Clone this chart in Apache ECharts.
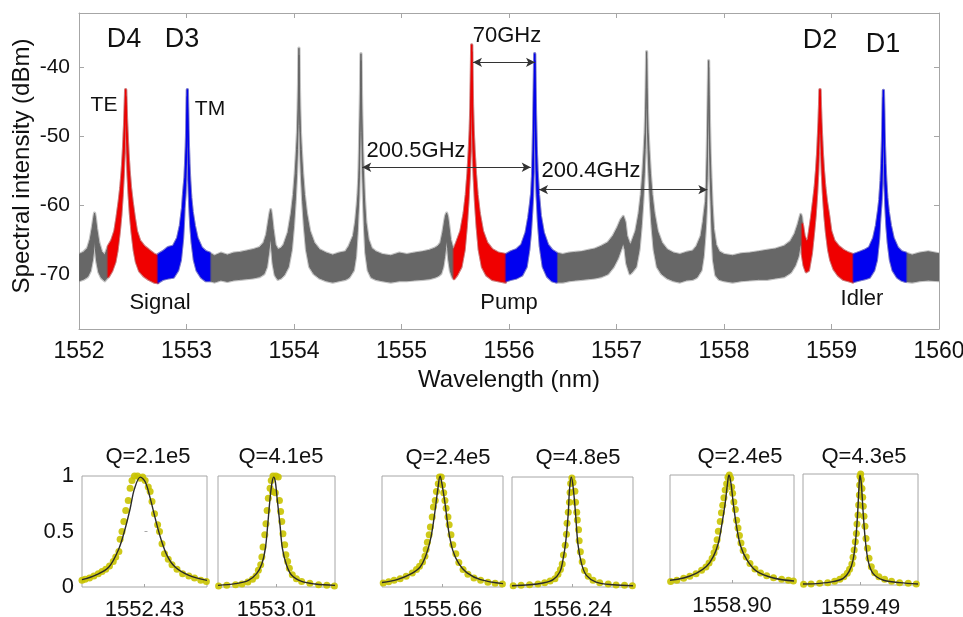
<!DOCTYPE html>
<html>
<head>
<meta charset="utf-8">
<script src="https://cdn.jsdelivr.net/npm/echarts@6/dist/echarts.min.js"></script>
<style>html,body{margin:0;padding:0;background:#fff}#c{width:963px;height:617px}</style>
</head>
<body>
<div id="c"></div>
<script>
// ---------- DATA ----------
// Spectrum envelope: [wavelength nm, upper dBm, lower dBm]
const spectrumEnvelope = [
[1552.000,-67.2,-71.0],[1552.040,-66.9,-70.8],[1552.080,-66.3,-70.4],[1552.105,-65.0,-69.6],
[1552.125,-63.2,-68.0],[1552.138,-61.8,-66.3],[1552.145,-61.2,-65.0],[1552.152,-61.8,-66.3],
[1552.165,-63.5,-68.2],[1552.185,-65.5,-69.8],[1552.210,-66.8,-70.6],[1552.240,-67.3,-71.0],
[1552.273,-66.0,-70.4],[1552.304,-65.2,-69.6],[1552.334,-63.8,-68.3],[1552.354,-61.8,-66.6],
[1552.374,-59.5,-64.0],[1552.389,-57.5,-61.5],[1552.402,-55.0,-58.5],[1552.412,-52.5,-55.5],
[1552.418,-50.5,-53.0],[1552.425,-48.0,-50.0],[1552.430,-45.5,-47.0],[1552.434,-43.3,-44.3],
[1552.438,-45.5,-47.0],[1552.443,-48.0,-50.0],[1552.450,-50.5,-53.0],[1552.456,-52.5,-55.5],
[1552.466,-55.0,-58.5],[1552.479,-57.5,-61.5],[1552.494,-59.5,-64.0],[1552.514,-61.8,-66.6],
[1552.534,-63.8,-68.3],[1552.564,-65.2,-69.6],[1552.604,-66.0,-70.3],[1552.650,-66.6,-70.8],
[1552.700,-67.2,-71.2],[1552.733,-67.4,-71.3],[1552.738,-67.2,-71.2],[1552.780,-66.8,-70.8],
[1552.830,-66.2,-70.6],[1552.878,-66.0,-70.5],[1552.918,-64.8,-69.5],[1552.943,-63.0,-68.0],
[1552.963,-60.5,-65.0],[1552.972,-58.5,-62.5],[1552.977,-57.6,-60.5],[1552.986,-56.0,-58.5],
[1552.993,-53.5,-56.0],[1552.998,-51.5,-53.5],[1553.002,-49.0,-50.5],[1553.005,-46.0,-47.5],
[1553.008,-43.3,-44.3],[1553.011,-46.0,-47.5],[1553.014,-49.0,-51.0],[1553.018,-51.5,-54.0],
[1553.023,-54.0,-57.0],[1553.030,-56.5,-60.0],[1553.040,-59.0,-63.0],[1553.053,-61.0,-65.5],
[1553.073,-63.0,-68.0],[1553.098,-64.8,-69.5],[1553.138,-66.2,-70.5],[1553.180,-66.8,-71.0],
[1553.215,-67.0,-71.0],[1553.260,-67.4,-71.2],[1553.320,-67.0,-70.9],[1553.380,-67.3,-71.1],
[1553.440,-67.0,-70.9],[1553.500,-66.9,-70.8],[1553.560,-66.7,-70.7],[1553.620,-66.5,-70.6],
[1553.680,-66.2,-70.4],[1553.720,-65.5,-70.0],[1553.745,-64.3,-69.0],[1553.763,-62.5,-67.0],
[1553.775,-61.3,-65.5],[1553.783,-60.7,-64.8],[1553.791,-61.5,-66.0],[1553.805,-63.5,-68.5],
[1553.825,-65.8,-70.2],[1553.850,-66.5,-70.8],[1553.880,-66.3,-70.6],[1553.906,-65.8,-70.2],
[1553.946,-64.0,-69.0],[1553.976,-61.2,-66.5],[1553.996,-58.5,-63.0],[1554.011,-55.5,-59.5],
[1554.024,-52.0,-55.5],[1554.032,-49.5,-52.0],[1554.038,-46.0,-48.5],[1554.042,-42.5,-44.5],
[1554.044,-40.0,-41.5],[1554.046,-37.3,-38.3],[1554.048,-40.0,-41.5],[1554.050,-42.5,-44.5],
[1554.054,-46.0,-48.5],[1554.060,-49.5,-52.0],[1554.068,-52.0,-55.5],[1554.081,-55.5,-59.5],
[1554.096,-58.5,-63.0],[1554.116,-61.2,-66.5],[1554.146,-63.8,-69.0],[1554.186,-65.5,-70.0],
[1554.236,-66.5,-70.6],[1554.300,-67.0,-71.0],[1554.360,-67.3,-71.2],[1554.420,-67.0,-71.0],
[1554.480,-66.8,-70.8],[1554.513,-66.0,-70.5],[1554.553,-64.5,-69.5],[1554.573,-62.5,-67.5],
[1554.588,-60.0,-64.0],[1554.595,-58.5,-61.5],[1554.603,-56.0,-59.0],[1554.609,-52.0,-55.0],
[1554.615,-47.0,-49.5],[1554.619,-43.0,-45.0],[1554.621,-40.5,-42.0],[1554.623,-38.1,-39.1],
[1554.625,-40.5,-42.0],[1554.627,-43.0,-45.0],[1554.631,-47.0,-49.5],[1554.637,-51.5,-54.5],
[1554.645,-55.0,-58.5],[1554.655,-59.0,-63.0],[1554.668,-62.5,-67.0],[1554.690,-65.0,-69.5],
[1554.720,-66.3,-70.5],[1554.760,-66.8,-70.8],[1554.820,-67.2,-71.0],[1554.900,-67.4,-71.2],
[1554.980,-67.0,-71.0],[1555.050,-67.2,-71.0],[1555.120,-67.0,-70.9],[1555.200,-66.8,-70.8],
[1555.260,-66.6,-70.7],[1555.310,-66.3,-70.5],[1555.340,-66.0,-70.3],[1555.365,-65.5,-70.0],
[1555.385,-64.0,-69.0],[1555.400,-62.5,-67.5],[1555.410,-61.6,-66.2],[1555.420,-61.2,-65.0],
[1555.430,-61.8,-66.3],[1555.440,-63.0,-68.0],[1555.455,-65.0,-69.6],[1555.475,-66.2,-70.5],
[1555.489,-66.5,-70.7],[1555.513,-65.5,-70.2],[1555.553,-63.8,-69.0],[1555.583,-61.2,-66.5],
[1555.603,-58.5,-63.0],[1555.618,-55.5,-59.5],[1555.631,-52.0,-55.5],[1555.639,-49.2,-51.8],
[1555.645,-45.8,-48.2],[1555.649,-42.0,-44.0],[1555.651,-39.5,-41.0],[1555.653,-36.8,-37.8],
[1555.655,-39.5,-41.0],[1555.657,-42.0,-44.0],[1555.661,-45.8,-48.2],[1555.667,-49.2,-51.8],
[1555.675,-52.0,-55.5],[1555.688,-55.5,-59.5],[1555.703,-58.5,-63.0],[1555.723,-61.2,-66.5],
[1555.753,-63.8,-69.0],[1555.793,-65.5,-70.2],[1555.843,-66.5,-70.8],[1555.900,-67.0,-71.0],
[1555.968,-67.2,-71.2],[1555.975,-67.2,-71.0],[1556.020,-66.8,-70.8],[1556.070,-66.5,-70.6],
[1556.119,-65.8,-70.2],[1556.159,-64.0,-69.0],[1556.184,-61.8,-66.5],[1556.199,-60.0,-64.0],
[1556.211,-58.3,-61.0],[1556.219,-55.8,-58.8],[1556.225,-52.0,-55.0],[1556.231,-47.0,-49.5],
[1556.235,-43.0,-45.0],[1556.237,-40.5,-42.0],[1556.239,-38.1,-39.1],[1556.241,-40.5,-42.0],
[1556.243,-43.0,-45.0],[1556.247,-47.0,-49.5],[1556.253,-51.5,-54.5],[1556.261,-55.0,-58.5],
[1556.274,-58.5,-62.5],[1556.291,-61.5,-66.0],[1556.319,-64.0,-69.0],[1556.359,-65.8,-70.4],
[1556.400,-66.6,-71.0],[1556.440,-67.0,-71.2],[1556.500,-67.2,-71.2],[1556.560,-67.0,-71.0],
[1556.620,-66.9,-70.9],[1556.680,-66.8,-70.8],[1556.740,-66.6,-70.7],[1556.800,-66.4,-70.6],
[1556.860,-66.0,-70.4],[1556.920,-65.5,-70.0],[1556.970,-64.5,-69.0],[1557.010,-63.3,-67.8],
[1557.040,-62.2,-66.5],[1557.063,-61.7,-65.5],[1557.080,-62.5,-66.5],[1557.095,-64.5,-68.5],
[1557.125,-65.8,-70.0],[1557.140,-65.5,-69.8],[1557.180,-63.8,-69.0],[1557.210,-61.2,-66.5],
[1557.230,-58.5,-63.0],[1557.245,-55.5,-59.5],[1557.258,-52.0,-55.5],[1557.266,-49.5,-52.0],
[1557.272,-46.2,-48.7],[1557.276,-43.0,-45.0],[1557.278,-40.5,-42.0],[1557.280,-37.8,-38.8],
[1557.282,-40.5,-42.0],[1557.284,-43.0,-45.0],[1557.288,-46.2,-48.7],[1557.294,-49.5,-52.0],
[1557.302,-52.0,-55.5],[1557.315,-55.5,-59.5],[1557.330,-58.5,-63.0],[1557.350,-61.2,-66.5],
[1557.380,-63.8,-69.0],[1557.420,-65.5,-70.0],[1557.470,-66.5,-70.6],[1557.530,-67.0,-71.0],
[1557.590,-67.2,-71.2],[1557.650,-66.9,-70.9],[1557.710,-66.7,-70.8],[1557.747,-66.0,-70.5],
[1557.787,-64.5,-69.5],[1557.807,-62.5,-67.5],[1557.822,-60.5,-64.5],[1557.830,-59.5,-62.5],
[1557.837,-57.0,-60.0],[1557.843,-53.0,-56.0],[1557.849,-48.0,-50.5],[1557.853,-44.0,-46.0],
[1557.855,-41.5,-43.0],[1557.857,-39.1,-40.1],[1557.859,-41.5,-43.0],[1557.861,-44.0,-46.0],
[1557.865,-48.0,-50.5],[1557.871,-52.5,-55.5],[1557.879,-56.0,-59.5],[1557.889,-60.0,-64.0],
[1557.902,-63.5,-68.0],[1557.924,-65.8,-70.2],[1557.954,-66.8,-70.8],[1558.000,-67.2,-71.0],
[1558.080,-67.4,-71.2],[1558.160,-67.1,-71.0],[1558.240,-67.0,-70.9],[1558.320,-66.8,-70.8],
[1558.400,-66.6,-70.8],[1558.480,-66.4,-70.6],[1558.560,-66.0,-70.4],[1558.620,-65.3,-69.8],
[1558.660,-64.2,-68.8],[1558.690,-62.8,-67.5],[1558.705,-61.9,-66.2],[1558.714,-61.4,-65.5],
[1558.722,-61.8,-66.0],[1558.729,-62.8,-67.2],[1558.745,-64.5,-68.8],[1558.765,-65.3,-69.7],
[1558.785,-65.0,-69.5],[1558.813,-62.0,-67.0],[1558.833,-59.5,-64.0],[1558.848,-57.5,-61.5],
[1558.861,-55.0,-58.5],[1558.871,-52.5,-55.5],[1558.877,-50.5,-53.0],[1558.884,-48.0,-50.0],
[1558.889,-45.5,-47.0],[1558.893,-43.3,-44.3],[1558.897,-45.5,-47.0],[1558.902,-48.0,-50.0],
[1558.909,-50.5,-53.0],[1558.915,-52.5,-55.5],[1558.925,-55.0,-58.5],[1558.938,-57.5,-61.5],
[1558.953,-59.5,-64.0],[1558.973,-61.5,-66.5],[1558.993,-63.8,-68.0],[1559.023,-65.2,-69.3],
[1559.063,-66.0,-70.2],[1559.110,-66.6,-70.8],[1559.160,-67.0,-71.0],[1559.198,-67.2,-71.2],
[1559.208,-67.2,-71.1],[1559.260,-66.9,-70.9],[1559.310,-66.6,-70.7],[1559.353,-66.2,-70.5],
[1559.393,-64.8,-69.5],[1559.418,-63.0,-68.0],[1559.438,-60.8,-65.0],[1559.449,-59.3,-62.0],
[1559.461,-56.5,-59.5],[1559.468,-54.0,-57.0],[1559.473,-51.5,-54.0],[1559.477,-49.0,-51.0],
[1559.480,-46.0,-47.5],[1559.483,-43.4,-44.4],[1559.486,-46.0,-47.5],[1559.489,-49.0,-51.0],
[1559.493,-51.5,-54.0],[1559.498,-54.0,-57.0],[1559.505,-56.5,-60.0],[1559.515,-59.0,-63.0],
[1559.528,-61.0,-65.5],[1559.548,-63.0,-68.0],[1559.573,-64.8,-69.5],[1559.613,-66.2,-70.5],
[1559.650,-66.8,-70.9],[1559.690,-67.0,-71.1],[1559.750,-67.3,-71.2],[1559.820,-67.0,-71.0],
[1559.900,-66.8,-70.9],[1560.000,-67.1,-71.0]
];
// Coloured parts of the trace (grey = whole trace underneath)
const segStart = [1552.000, 1552.273, 1552.738, 1555.489, 1555.975, 1558.729, 1559.208];
const segEnd   = [1560.000, 1552.733, 1553.215, 1555.968, 1556.440, 1559.198, 1559.690];
const segKind  = ['other', 'TE', 'TM', 'TE', 'TM', 'TE', 'TM'];

// Spacing arrows: [from nm, to nm, level dBm]
const arrowFrom  = [1555.665, 1554.635, 1556.279];
const arrowTo    = [1556.242, 1556.202, 1557.845];
const arrowLevel = [-39.35, -54.56, -57.8];

const xTicks = [1552, 1553, 1554, 1555, 1556, 1557, 1558, 1559, 1560];
const yTicks = [-70, -60, -50, -40];

const annoText = ['D4', 'D3', 'TE', 'TM', 'Signal', 'Pump', 'Idler', 'D2', 'D1', '70GHz', '200.5GHz', '200.4GHz'];
const yTitle = 'Spectral intensity (dBm)';
const xTitle = 'Wavelength (nm)';

// Resonance insets (normalised transmission vs. relative detuning)
const qLabels = ['Q=2.1e5', 'Q=4.1e5', 'Q=2.4e5', 'Q=4.8e5', 'Q=2.4e5', 'Q=4.3e5'];
const centerLabels = ['1552.43', '1553.01', '1555.66', '1556.24', '1558.90', '1559.49'];

const dots1 = [[-1.00,0.06],[-0.95,0.07],[-0.88,0.08],[-0.81,0.10],[-0.74,0.12],[-0.68,0.14],[-0.62,0.16],[-0.56,0.19],[-0.50,0.23],[-0.46,0.27],[-0.41,0.32],[-0.39,0.43],[-0.36,0.50],[-0.33,0.59],[-0.30,0.69],[-0.26,0.78],[-0.23,0.89],[-0.20,0.96],[-0.16,1.00],[-0.11,1.00],[-0.07,0.98],[-0.03,0.99],[0.01,0.96],[0.06,0.90],[0.09,0.86],[0.12,0.77],[0.16,0.66],[0.21,0.56],[0.24,0.50],[0.28,0.39],[0.32,0.30],[0.38,0.25],[0.44,0.20],[0.52,0.16],[0.61,0.12],[0.71,0.10],[0.80,0.08],[0.90,0.06],[0.99,0.05]];
const fit1 = [[-1,0.066],[-0.79,0.105],[-0.57,0.18],[-0.41,0.345],[-0.31,0.525],[-0.23,0.705],[-0.16,0.886],[-0.067,0.99],[0.013,0.946],[0.093,0.796],[0.173,0.616],[0.253,0.45],[0.36,0.285],[0.49,0.18],[0.71,0.105],[1,0.06]];

const dots2 = [[-0.99,0.01],[-0.85,0.015],[-0.70,0.02],[-0.59,0.027],[-0.49,0.045],[-0.41,0.07],[-0.35,0.10],[-0.31,0.15],[-0.27,0.20],[-0.25,0.27],[-0.23,0.36],[-0.20,0.47],[-0.18,0.57],[-0.16,0.69],[-0.14,0.80],[-0.11,0.89],[-0.09,0.96],[-0.06,1.00],[-0.01,1.00],[0.03,0.99],[-0.07,0.86],[-0.02,0.85],[0.05,0.78],[0.07,0.68],[0.09,0.59],[0.11,0.48],[0.14,0.38],[0.16,0.29],[0.19,0.23],[0.22,0.17],[0.27,0.11],[0.34,0.075],[0.43,0.05],[0.57,0.033],[0.72,0.02],[0.86,0.015],[0.99,0.01]];
const fit2 = [[-1,0.015],[-0.70,0.03],[-0.48,0.06],[-0.34,0.12],[-0.25,0.21],[-0.19,0.35],[-0.15,0.56],[-0.11,0.80],[-0.08,0.93],[-0.05,0.99],[-0.02,0.95],[0.01,0.80],[0.06,0.56],[0.10,0.35],[0.17,0.20],[0.26,0.105],[0.43,0.05],[0.66,0.027],[1,0.015]];

const dots3 = [[-0.98,0.036],[-0.89,0.048],[-0.80,0.06],[-0.70,0.075],[-0.60,0.096],[-0.50,0.127],[-0.43,0.157],[-0.38,0.187],[-0.33,0.226],[-0.29,0.277],[-0.27,0.337],[-0.25,0.404],[-0.22,0.47],[-0.20,0.54],[-0.17,0.63],[-0.15,0.72],[-0.12,0.78],[-0.10,0.86],[-0.07,0.93],[-0.05,0.99],[-0.02,0.99],[0.00,0.92],[0.02,0.85],[0.04,0.78],[0.06,0.71],[0.09,0.63],[0.11,0.56],[0.14,0.47],[0.17,0.38],[0.22,0.30],[0.27,0.22],[0.34,0.157],[0.42,0.114],[0.52,0.081],[0.63,0.06],[0.75,0.042],[0.87,0.033],[0.99,0.027]];
const fit3 = [[-1,0.04],[-0.75,0.066],[-0.53,0.115],[-0.37,0.18],[-0.27,0.29],[-0.19,0.45],[-0.13,0.66],[-0.08,0.87],[-0.04,1.0],[0.0,0.90],[0.05,0.72],[0.10,0.51],[0.17,0.33],[0.27,0.21],[0.40,0.13],[0.63,0.066],[1,0.03]];

const dots4 = [[-0.98,0.012],[-0.85,0.015],[-0.71,0.021],[-0.57,0.027],[-0.46,0.039],[-0.37,0.055],[-0.29,0.076],[-0.24,0.115],[-0.20,0.158],[-0.17,0.21],[-0.15,0.29],[-0.12,0.38],[-0.10,0.48],[-0.09,0.58],[-0.07,0.68],[-0.05,0.77],[-0.04,0.86],[-0.03,0.94],[-0.01,0.99],[0.01,0.95],[0.04,0.87],[0.05,0.77],[0.07,0.68],[0.08,0.61],[0.10,0.52],[0.11,0.42],[0.13,0.32],[0.16,0.23],[0.20,0.15],[0.26,0.097],[0.34,0.061],[0.45,0.039],[0.59,0.027],[0.72,0.018],[0.86,0.015],[0.99,0.012]];
const fit4 = [[-1,0.012],[-0.71,0.02],[-0.49,0.036],[-0.32,0.067],[-0.21,0.136],[-0.16,0.24],[-0.11,0.42],[-0.07,0.67],[-0.05,0.88],[-0.02,1.0],[0.01,0.91],[0.05,0.67],[0.09,0.39],[0.15,0.21],[0.23,0.106],[0.39,0.045],[0.67,0.02],[1,0.012]];

const dots5 = [[-0.99,0.015],[-0.89,0.025],[-0.78,0.043],[-0.68,0.062],[-0.58,0.086],[-0.49,0.117],[-0.42,0.148],[-0.37,0.185],[-0.32,0.23],[-0.29,0.28],[-0.26,0.33],[-0.24,0.40],[-0.22,0.48],[-0.19,0.57],[-0.17,0.65],[-0.15,0.72],[-0.13,0.79],[-0.11,0.86],[-0.086,0.92],[-0.065,0.98],[-0.043,1.0],[-0.022,0.97],[-0.005,0.89],[0.01,0.83],[0.03,0.75],[0.054,0.68],[0.075,0.58],[0.097,0.51],[0.12,0.44],[0.145,0.37],[0.18,0.30],[0.23,0.24],[0.29,0.18],[0.37,0.13],[0.46,0.092],[0.56,0.068],[0.67,0.049],[0.80,0.034],[0.91,0.025],[0.99,0.018]];
const fit5 = [[-1,0.025],[-0.78,0.046],[-0.57,0.092],[-0.41,0.154],[-0.30,0.246],[-0.22,0.37],[-0.17,0.52],[-0.11,0.74],[-0.075,0.91],[-0.05,1.0],[-0.016,0.92],[0.02,0.74],[0.075,0.52],[0.14,0.34],[0.24,0.215],[0.40,0.108],[0.67,0.046],[1,0.018]];

const dots6 = [[-0.99,0.006],[-0.86,0.009],[-0.71,0.015],[-0.57,0.021],[-0.45,0.033],[-0.36,0.051],[-0.29,0.075],[-0.23,0.105],[-0.19,0.141],[-0.15,0.19],[-0.13,0.25],[-0.11,0.315],[-0.09,0.39],[-0.072,0.465],[-0.061,0.55],[-0.043,0.63],[-0.032,0.72],[-0.02,0.81],[-0.014,0.90],[-0.009,0.98],[0.003,1.0],[0.014,0.95],[0.026,0.87],[0.038,0.79],[0.049,0.71],[0.061,0.62],[0.078,0.53],[0.096,0.42],[0.12,0.33],[0.148,0.24],[0.188,0.165],[0.246,0.111],[0.32,0.075],[0.42,0.051],[0.54,0.033],[0.68,0.021],[0.83,0.015],[0.97,0.009]];
const fit6 = [[-1,0.009],[-0.71,0.015],[-0.48,0.03],[-0.30,0.06],[-0.20,0.12],[-0.13,0.225],[-0.084,0.405],[-0.05,0.645],[-0.026,0.886],[-0.009,0.99],[0.014,0.916],[0.043,0.675],[0.084,0.405],[0.136,0.21],[0.217,0.105],[0.39,0.045],[0.68,0.021],[1,0.009]];

const insetDots = [dots1, dots2, dots3, dots4, dots5, dots6];
const insetFits = [fit1, fit2, fit3, fit4, fit5, fit6];

// ---------- LAYOUT / STYLE ----------
const FONT = '"Liberation Sans", Arial, Helvetica, sans-serif';
const TXT = '#111';
const FRAME = '#a6a6a6';
const kindColor = { other: '#676767', TE: '#f00000', TM: '#0000f0' };
const kindHalo  = { other: 'rgba(120,120,120,0.45)', TE: 'rgba(240,0,0,0.4)', TM: 'rgba(0,0,240,0.4)' };

const mainGrid = { left: 79, top: 13, width: 860, height: 316 };
const insetGrids = [
  { left: 82,  top: 476, width: 125, height: 111 },
  { left: 218, top: 476, width: 117, height: 111 },
  { left: 382, top: 476, width: 121, height: 111 },
  { left: 512, top: 477, width: 121, height: 110 },
  { left: 670, top: 475, width: 124, height: 108 },
  { left: 803, top: 474, width: 115, height: 111 }
];
const qPos = [[148, 457], [281, 457], [448, 458], [578, 458], [740, 457], [864, 457]];
const annoPos = [
  [124, 40, 27], [182, 40, 27], [104, 105, 21], [210, 109, 21], [160, 303, 22],
  [509, 303, 22], [862, 299, 22], [820, 41, 27], [883, 45, 27],
  [507, 36, 22], [416, 151, 22], [591, 171, 22]
];

const grids = [Object.assign({ outerBoundsMode: 'none', containLabel: false }, mainGrid)].concat(
  insetGrids.map(g => Object.assign({ show: true, borderColor: FRAME, borderWidth: 1, outerBoundsMode: 'none', containLabel: false }, g)));

const xAxes = [
  {
    gridIndex: 0, type: 'value', min: 1552, max: 1560, position: 'bottom',
    axisLine: { onZero: false, lineStyle: { color: FRAME } },
    axisTick: { inside: true, length: 5, customValues: xTicks, lineStyle: { color: FRAME } },
    axisLabel: { customValues: xTicks, formatter: v => String(v), color: TXT, fontSize: 23, fontFamily: FONT, margin: 11 },
    splitLine: { show: false },
    name: xTitle, nameLocation: 'middle', nameGap: 39,
    nameTextStyle: { fontSize: 24, color: TXT, fontFamily: FONT }
  },
  {
    gridIndex: 0, type: 'value', min: 1552, max: 1560, position: 'top',
    axisLine: { onZero: false, lineStyle: { color: FRAME } },
    axisTick: { inside: true, length: 5, customValues: xTicks, lineStyle: { color: FRAME } },
    axisLabel: { show: false }, splitLine: { show: false }
  }
];
const yAxes = [
  {
    gridIndex: 0, type: 'value', min: -78, max: -32.2, position: 'left',
    axisLine: { onZero: false, lineStyle: { color: FRAME } },
    axisTick: { inside: true, length: 5, customValues: yTicks, lineStyle: { color: FRAME } },
    axisLabel: { customValues: yTicks, formatter: v => String(v), color: TXT, fontSize: 21, fontFamily: FONT, margin: 9 },
    splitLine: { show: false }
  },
  {
    gridIndex: 0, type: 'value', min: -78, max: -32.2, position: 'right',
    axisLine: { onZero: false, lineStyle: { color: FRAME } },
    axisTick: { inside: true, length: 5, customValues: yTicks, lineStyle: { color: FRAME } },
    axisLabel: { show: false }, splitLine: { show: false }
  }
];
insetGrids.forEach((g, i) => {
  xAxes.push({
    gridIndex: i + 1, type: 'value', min: -1, max: 1,
    axisLine: { show: false },
    axisTick: { inside: true, length: 3, customValues: [0], lineStyle: { color: FRAME } },
    axisLabel: { customValues: [0], formatter: () => centerLabels[i], color: TXT, fontSize: 22, fontFamily: FONT, margin: 12 },
    splitLine: { show: false }
  });
  yAxes.push({
    gridIndex: i + 1, type: 'value', min: 0, max: 1,
    axisLine: { show: false },
    axisTick: { show: i === 0, inside: true, length: 3, customValues: [0.5], lineStyle: { color: FRAME } },
    axisLabel: { show: i === 0, customValues: [0, 0.5, 1], formatter: v => String(v), color: TXT, fontSize: 22, fontFamily: FONT, margin: 8 },
    splitLine: { show: false }
  });
});

function renderSegment(params, api) {
  const i = params.dataIndex;
  const s = segStart[i], e = segEnd[i];
  const pts = spectrumEnvelope.filter(p => p[0] >= s - 1e-9 && p[0] <= e + 1e-9);
  const upper = pts.map(p => api.coord([p[0], p[1]]));
  const lower = pts.slice().reverse().map(p => api.coord([p[0], p[2]]));
  const poly = upper.concat(lower);
  const k = segKind[i];
  return {
    type: 'group',
    children: [
      { type: 'polygon', shape: { points: poly }, style: { fill: 'none', stroke: kindHalo[k], lineWidth: 3.2, lineJoin: 'round' } },
      { type: 'polygon', shape: { points: poly }, style: { fill: kindColor[k], stroke: kindColor[k], lineWidth: 1, lineJoin: 'round' } }
    ]
  };
}

const series = [
  {
    type: 'custom', xAxisIndex: 0, yAxisIndex: 0, silent: true,
    renderItem: renderSegment,
    encode: { x: [0, 2], y: 1 },
    data: segStart.map((s, i) => [s, -70, segEnd[i]]),
    clip: true, z: 2
  },
  {
    type: 'line', xAxisIndex: 0, yAxisIndex: 0, data: [], silent: true, z: 5,
    markLine: {
      silent: true, animation: false,
      symbol: ['arrow', 'arrow'], symbolSize: [7, 9],
      lineStyle: { color: '#333', width: 1, type: 'solid' },
      label: { show: false },
      data: arrowFrom.map((f, i) => [{ coord: [f, arrowLevel[i]] }, { coord: [arrowTo[i], arrowLevel[i]] }])
    }
  }
];
insetDots.forEach((d, i) => {
  series.push({
    type: 'scatter', xAxisIndex: i + 2, yAxisIndex: i + 2, data: d,
    symbolSize: 7, itemStyle: { color: '#c9c300', opacity: 0.9 }, silent: true, z: 3
  });
  series.push({
    type: 'line', xAxisIndex: i + 2, yAxisIndex: i + 2, data: insetFits[i],
    smooth: 0.35, showSymbol: false, lineStyle: { color: '#2a2a2a', width: 1.4 }, silent: true, z: 4
  });
});

const graphic = annoText.map((t, i) => ({
  type: 'text', x: annoPos[i][0], y: annoPos[i][1], silent: true,
  style: { text: t, fill: TXT, fontSize: annoPos[i][2], fontFamily: FONT, align: 'center', verticalAlign: 'middle' }
})).concat(qLabels.map((t, i) => ({
  type: 'text', x: qPos[i][0], y: qPos[i][1], silent: true,
  style: { text: t, fill: TXT, fontSize: 22, fontFamily: FONT, align: 'center', verticalAlign: 'middle' }
}))).concat([{
  type: 'text', x: 22, y: 166, rotation: Math.PI / 2, silent: true,
  style: { text: yTitle, fill: TXT, fontSize: 24, fontFamily: FONT, align: 'center', verticalAlign: 'middle' }
}]);

const chart = echarts.init(document.getElementById('c'), null, { renderer: 'canvas' });
chart.setOption({
  animation: false,
  backgroundColor: '#fff',
  grid: grids,
  xAxis: xAxes,
  yAxis: yAxes,
  series: series,
  graphic: graphic
});
</script>
</body>
</html>
